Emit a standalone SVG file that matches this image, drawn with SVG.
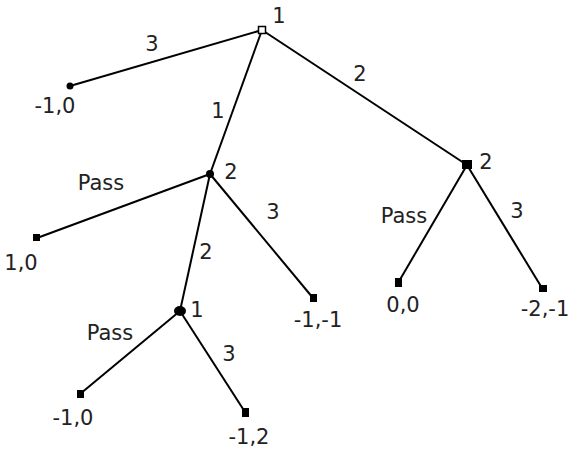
<svg xmlns="http://www.w3.org/2000/svg" width="571" height="450" viewBox="0 0 571 450">
<style>
text{font-family:"DejaVu Sans",sans-serif;font-size:21px;fill:#222}
.e line{stroke:#000;stroke-width:2}
.n{fill:#000}
</style>
<rect width="571" height="450" fill="#fff"/>
<g class="e" id="connectors">
<line x1="262" y1="30" x2="70" y2="86"/>
<line x1="262" y1="30" x2="210" y2="174"/>
<line x1="262" y1="30" x2="467" y2="165"/>
<line x1="210" y1="174" x2="37" y2="238"/>
<line x1="210" y1="174" x2="313" y2="298"/>
<line x1="210" y1="174" x2="180" y2="311"/>
<line x1="180" y1="311" x2="80" y2="394"/>
<line x1="180" y1="311" x2="245" y2="412"/>
<line x1="467" y1="165" x2="398" y2="283"/>
<line x1="467" y1="165" x2="542" y2="288"/>
</g>
<g id="edge-labels">
<text x="152" y="51" text-anchor="middle">3</text>
<text x="218" y="118" text-anchor="middle">1</text>
<text x="360" y="81" text-anchor="middle">2</text>
<text x="101" y="190" text-anchor="middle">Pass</text>
<text x="273" y="219" text-anchor="middle">3</text>
<text x="206" y="259" text-anchor="middle">2</text>
<text x="110" y="340" text-anchor="middle">Pass</text>
<text x="229" y="361" text-anchor="middle">3</text>
<text x="404" y="223" text-anchor="middle">Pass</text>
<text x="517" y="218" text-anchor="middle">3</text>
</g>
<g id="root"><rect x="258.5" y="26.5" width="7" height="7" fill="#fff" stroke="#000" stroke-width="1.5"/><text x="279" y="23" text-anchor="middle">1</text></g>
<g id="n2a"><circle class="n" cx="210" cy="174" r="4"/><text x="231" y="179" text-anchor="middle">2</text></g>
<g id="n2b"><rect class="n" x="462" y="160" width="10" height="9"/><text x="486" y="169" text-anchor="middle">2</text></g>
<g id="n1"><ellipse class="n" cx="180" cy="311" rx="6" ry="5"/><text x="197" y="317" text-anchor="middle">1</text></g>
<g id="leaf1"><circle class="n" cx="70" cy="86" r="3.5"/><text x="55" y="113" text-anchor="middle">-1,0</text></g>
<g id="leaf2"><rect class="n" x="33" y="234" width="7" height="7"/><text x="21" y="270" text-anchor="middle">1,0</text></g>
<g id="leaf3"><rect class="n" x="310" y="294" width="7" height="8"/><text x="318" y="327" text-anchor="middle">-1,-1</text></g>
<g id="leaf4"><rect class="n" x="77" y="390" width="7" height="8"/><text x="73" y="425" text-anchor="middle">-1,0</text></g>
<g id="leaf5"><rect class="n" x="242" y="408" width="7" height="9"/><text x="249" y="444" text-anchor="middle">-1,2</text></g>
<g id="leaf6"><rect class="n" x="395" y="278" width="7" height="9"/><text x="403" y="312" text-anchor="middle">0,0</text></g>
<g id="leaf7"><rect class="n" x="539" y="285" width="8" height="7"/><text x="545" y="316" text-anchor="middle">-2,-1</text></g>
</svg>
